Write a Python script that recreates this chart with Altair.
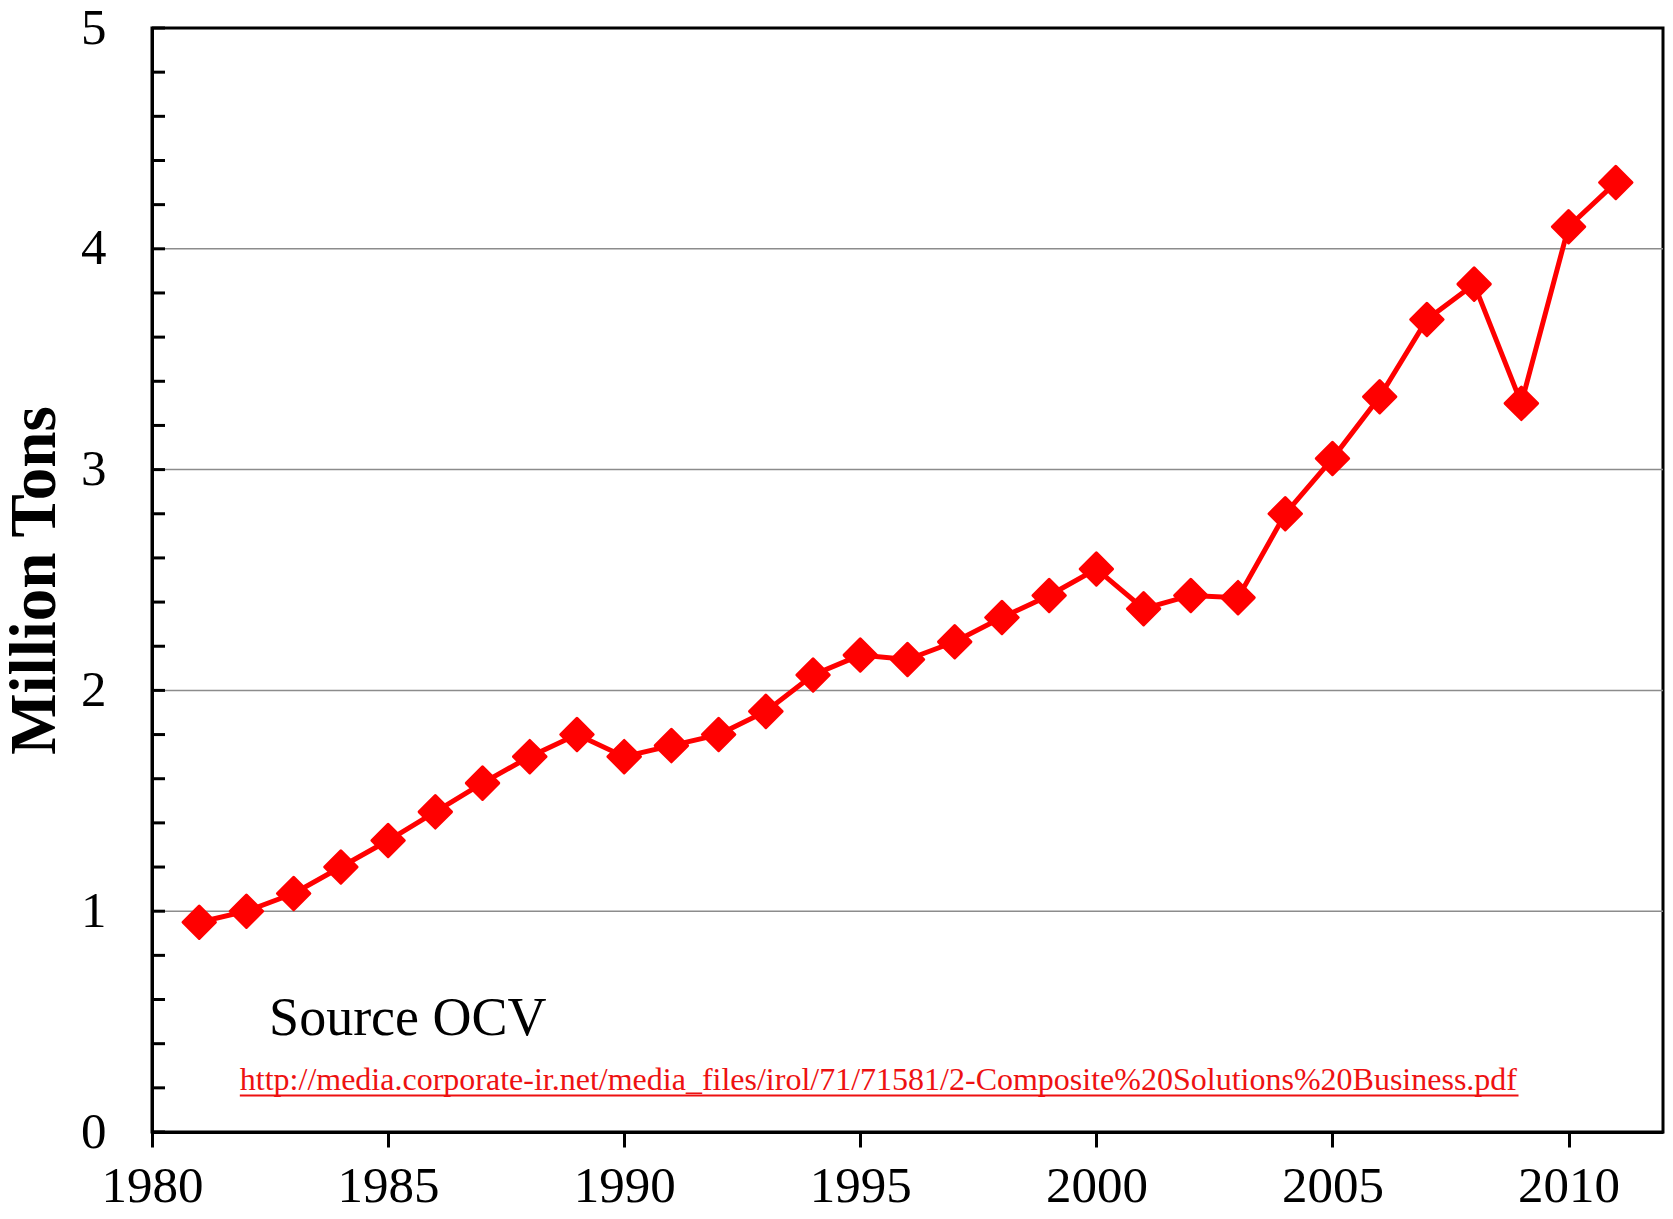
import altair as alt
import pandas as pd

years = list(range(1981, 2012))
values = [0.95, 1.00, 1.08, 1.20, 1.32, 1.45, 1.58, 1.70, 1.80, 1.70,
          1.75, 1.80, 1.905, 2.07, 2.16, 2.14, 2.22, 2.33, 2.43, 2.55,
          2.37, 2.43, 2.42, 2.80, 3.05, 3.33, 3.68, 3.84, 3.30, 4.10, 4.30]

x_ticks = [1980, 1985, 1990, 1995, 2000, 2005, 2010]
y_ticks = [0, 1, 2, 3, 4, 5]
y_minor = [round(i * 0.2, 1) for i in range(26)]
grid_vals = [1, 2, 3, 4]

source_text = ["Source OCV"]
source_pos = [(1982.48, 0.44)]
url_text = ["http://media.corporate-ir.net/media_files/irol/71/71581/2-Composite%20Solutions%20Business.pdf"]
url_pos = [(1981.86, 0.19)]
url_end = [2008.94]
url_underline_y = [0.165]

FONT = "Liberation Serif"
RED = "#ff0000"

df = pd.DataFrame({"year": years, "value": values})

xscale = alt.Scale(domain=[1980, 2012], nice=False, zero=False)
yscale = alt.Scale(domain=[0, 5], nice=False)

xenc = alt.X("year:Q", scale=xscale, title=None,
             axis=alt.Axis(values=x_ticks, format="d", grid=False, labelFont=FONT,
                           labelFontSize=51, labelColor="black", labelPadding=14,
                           ticks=True, tickSize=15, tickWidth=3, tickColor="black",
                           domainColor="black", domainWidth=3, labelFlush=False))
yenc = alt.Y("value:Q", scale=yscale, title="Million Tons",
             axis=alt.Axis(values=y_ticks, format="d", grid=False, labelFont=FONT, labelFontSize=51,
                           labelColor="black", labelPadding=46, ticks=False,
                           domainColor="black", domainWidth=3,
                           titleFont=FONT, titleFontSize=65, titleFontWeight="bold",
                           titleColor="black", titlePadding=12, labelFlush=False))

grid = alt.Chart(pd.DataFrame({"g": grid_vals})).mark_rule(color="#8c8c8c", strokeWidth=1.5).encode(
    y=alt.Y("g:Q", scale=yscale)
)

minor_df = pd.DataFrame({"t": y_minor})
ticks_in = alt.Chart(minor_df).mark_rule(color="black", strokeWidth=3).encode(
    y=alt.Y("t:Q", scale=yscale), x=alt.value(0), x2=alt.value(13)
)

line = alt.Chart(df).mark_line(color=RED, strokeWidth=5).encode(x=xenc, y=yenc)
points = alt.Chart(df).mark_point(shape="diamond", filled=True, color=RED, size=1050,
                                  stroke=RED, strokeWidth=3, strokeJoin="round", opacity=1).encode(
    x=alt.X("year:Q", scale=xscale), y=alt.Y("value:Q", scale=yscale)
)

src_df = pd.DataFrame({"x": [p[0] for p in source_pos], "y": [p[1] for p in source_pos], "t": source_text})
src = alt.Chart(src_df).mark_text(font=FONT, fontSize=54, color="black", align="left",
                                  baseline="alphabetic").encode(
    x=alt.X("x:Q", scale=xscale), y=alt.Y("y:Q", scale=yscale), text="t:N")

url_df = pd.DataFrame({"x": [p[0] for p in url_pos], "y": [p[1] for p in url_pos], "t": url_text,
                       "x2": url_end, "uy": url_underline_y})
url = alt.Chart(url_df).mark_text(font=FONT, fontSize=32, color="#ee1111", align="left",
                                  baseline="alphabetic").encode(
    x=alt.X("x:Q", scale=xscale), y=alt.Y("y:Q", scale=yscale), text="t:N")
underline = alt.Chart(url_df).mark_rule(color="#ee1111", strokeWidth=2).encode(
    x=alt.X("x:Q", scale=xscale), x2="x2:Q", y=alt.Y("uy:Q", scale=yscale))

chart = alt.layer(grid, line, points, ticks_in, src, url, underline).properties(
    width=1511, height=1104,
    autosize=alt.AutoSizeParams(type="none"),
    padding={"left": 144, "top": 20, "right": 2, "bottom": 79},
).configure(background="white").configure_view(stroke="black", strokeWidth=3)

chart.save("out.html", embed_options={"renderer": "svg", "actions": False})
